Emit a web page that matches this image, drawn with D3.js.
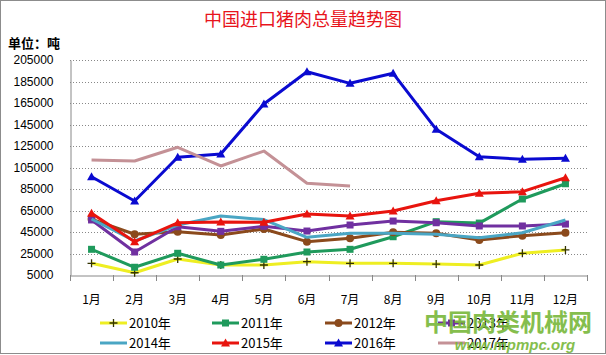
<!DOCTYPE html>
<html>
<head>
<meta charset="utf-8">
<script src="https://cdn.jsdelivr.net/npm/d3@7"></script>
<style>
html,body{margin:0;padding:0;background:#fff;}
svg{display:block;}
</style>
</head>
<body>
<svg id="chart" width="606" height="355"></svg>
<script>
const months = ["1月","2月","3月","4月","5月","6月","7月","8月","9月","10月","11月","12月"];
const yTicks = [5000,25000,45000,65000,85000,105000,125000,145000,165000,185000,205000];
const seriesNames = ["2010年","2011年","2012年","2013年","2014年","2015年","2016年","2017年"];
const v2010 = [15900,7100,19900,14300,14300,17400,15900,15900,15200,14300,25200,28300];
const v2011 = [28900,12200,25200,14300,19600,26400,28900,40600,54600,53300,75700,89900];
const v2012 = [57000,42900,45300,42200,47800,36000,39100,44800,43800,37600,41600,44300];
const v2013 = [56200,26400,49900,45600,50300,45900,51500,55200,53600,50600,50600,52400];
const v2014 = [57100,36600,51500,59900,56600,40100,43800,43800,42900,39700,44300,56200];
const v2015 = [62400,36000,53600,54300,54000,61700,59900,64500,74100,81000,82500,95500];
const v2016 = [96400,73800,114500,117600,164100,194100,183300,192600,140500,115000,112600,113600];
const v2017 = [112000,111000,123800,106400,120300,90300,87800];

(function(){
const colors = ["#eeee22","#1f9a5c","#8b4a1c","#7030a0","#4aa6c4","#e8140e","#0a0ad0","#c49196"];
const markers = ["plus","square","circle","square",null,"triangle","triangle",null];
const allValues = [v2010,v2011,v2012,v2013,v2014,v2015,v2016,v2017];

const svg = d3.select("#chart");
const W = 606, H = 355;
const pLeft = 70, pRight = 587, pTop = 60, pBottom = 275;

svg.append("rect").attr("x",0.5).attr("y",0.5).attr("width",W-1).attr("height",H-2)
  .attr("fill","#fff").attr("stroke","#8c8c8c");

const x = d3.scaleBand().domain(months).range([pLeft,pRight]);
const y = d3.scaleLinear().domain([5000,205000]).range([pBottom,pTop]);

svg.append("text").attr("x",303).attr("y",26).attr("text-anchor","middle")
  .attr("font-family","'Noto Sans CJK SC'").attr("font-size",18).attr("fill","#e8141c")
  .text("中国进口猪肉总量趋势图");
svg.append("text").attr("x",8).attr("y",48)
  .attr("font-family","'Noto Sans CJK SC'").attr("font-size",13).attr("font-weight","bold").attr("fill","#000")
  .text("单位：吨");

svg.append("g").selectAll("line").data(yTicks.filter(d=>d>5000)).join("line")
  .attr("x1",pLeft).attr("x2",pRight).attr("y1",d=>Math.round(y(d))+0.5).attr("y2",d=>Math.round(y(d))+0.5)
  .attr("stroke","#888").attr("stroke-dasharray","1,2");

const yAxis = d3.axisLeft(y).tickValues(yTicks).tickFormat(d3.format("d")).tickSize(0).tickPadding(17);
const gy = svg.append("g").attr("transform",`translate(${pLeft+0.5},0)`).call(yAxis);
gy.select(".domain").attr("stroke","#888");
gy.selectAll("text").attr("font-family","'Liberation Sans',Arial").attr("font-size",12).attr("fill","#000");

const xAxis = d3.axisBottom(x).tickSize(0).tickPadding(20);
const gx = svg.append("g").attr("transform",`translate(0,${pBottom+0.5})`).call(xAxis);
gx.select(".domain").attr("stroke","#888");
gx.selectAll("text").attr("font-family","'Noto Sans CJK SC'").attr("font-size",12).attr("fill","#000");
const bounds = months.map(m=>x(m)).concat([x(months[months.length-1])+x.bandwidth()]);
svg.append("g").selectAll("line").data(bounds).join("line")
  .attr("x1",d=>Math.round(d)+0.5).attr("x2",d=>Math.round(d)+0.5)
  .attr("y1",pBottom).attr("y2",pBottom+6).attr("stroke","#888");

const cx = m => x(m) + x.bandwidth()/2;
const line = d3.line().x((d,i)=>cx(months[i])).y(d=>y(d));

function drawMarker(g, type, color, px, py){
  if(type==="plus"){
    g.append("path").attr("d",`M${px-4},${py}H${px+4}M${px},${py-4}V${py+4}`)
      .attr("stroke","#333300").attr("stroke-width",1.3).attr("fill","none");
  } else if(type==="square"){
    g.append("rect").attr("x",px-3.5).attr("y",py-3.5).attr("width",7).attr("height",7).attr("fill",color);
  } else if(type==="circle"){
    g.append("circle").attr("cx",px).attr("cy",py).attr("r",4).attr("fill",color);
  } else if(type==="triangle"){
    g.append("path").attr("d",`M${px},${py-4.5}L${px+4.5},${py+3.5}L${px-4.5},${py+3.5}Z`).attr("fill",color);
  }
}

const plot = svg.append("g");
allValues.forEach((vals,k)=>{
  const g = plot.append("g");
  g.append("path").datum(vals).attr("d",line).attr("fill","none")
    .attr("stroke",colors[k]).attr("stroke-width",3).attr("stroke-linejoin","round");
  if(markers[k]){
    vals.forEach((v,i)=>drawMarker(g,markers[k],colors[k],cx(months[i]),y(v)));
  }
});

const legX = [100,212,325,438];
const legY = [323,343];
seriesNames.forEach((name,k)=>{
  const lx = legX[k%4], ly = legY[Math.floor(k/4)];
  const g = svg.append("g");
  g.append("line").attr("x1",lx).attr("x2",lx+27).attr("y1",ly).attr("y2",ly)
    .attr("stroke",colors[k]).attr("stroke-width",3);
  if(markers[k]) drawMarker(g,markers[k],colors[k],lx+13.5,ly);
  g.append("text").attr("x",lx+29).attr("y",ly+4.5)
    .attr("font-family","'Noto Sans CJK SC'").attr("font-size",13).attr("fill","#000").text(name);
});

svg.append("text").attr("x",508).attr("y",331).attr("text-anchor","middle")
  .attr("font-family","'Noto Sans CJK SC'").attr("font-size",24).attr("font-weight","bold")
  .attr("fill","#78b83a").attr("opacity",0.9).text("中国肉类机械网");
svg.append("text").attr("x",515).attr("y",350).attr("text-anchor","middle")
  .attr("font-family","'Liberation Sans',Arial").attr("font-size",15).attr("font-weight","bold").attr("font-style","italic")
  .attr("fill","#78b83a").attr("opacity",0.9).text("www.mpmpc.org");
})();
</script>
</body>
</html>
